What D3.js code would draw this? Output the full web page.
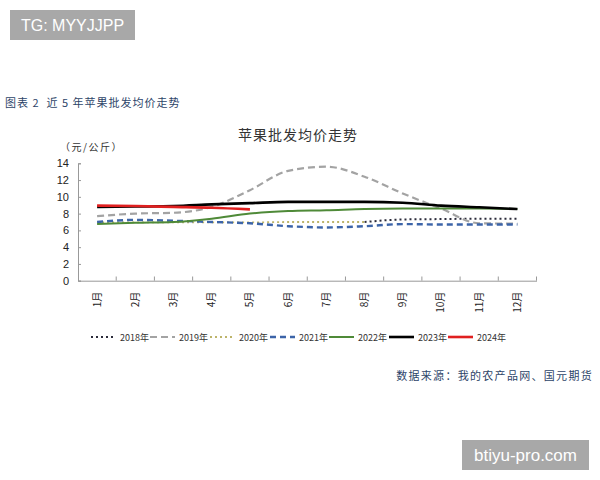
<!DOCTYPE html>
<html><head><meta charset="utf-8">
<script src="https://cdn.jsdelivr.net/npm/d3@7"></script>
<style>body{margin:0;background:#fff}svg{display:block}text{white-space:pre}</style>
</head><body>
<script>
const months = ["1月","2月","3月","4月","5月","6月","7月","8月","9月","10月","11月","12月"];
const yTicks = [0,2,4,6,8,10,12,14];
const s2018 = [null,null,null,null,null,null,null,7.0,7.3,7.35,7.4,7.4];
const s2019 = [7.7,8.0,8.1,8.8,10.8,13.1,13.6,12.4,10.4,8.6,6.85,6.8];
const s2020 = [6.95,6.95,6.95,6.95,6.95,7.0,7.0,7.0,null,null,null,null];
const s2021 = [7.0,7.25,7.15,7.0,6.85,6.5,6.35,6.5,6.75,6.7,6.7,6.7];
const s2022 = [6.75,6.9,7.0,7.4,8.0,8.3,8.4,8.55,8.6,8.6,8.6,8.55];
const s2023 = [8.8,8.85,8.9,9.1,9.25,9.4,9.4,9.4,9.3,8.95,8.75,8.55];
const s2024 = [8.95,8.9,8.8,8.7,8.5];
const seriesNames = ["2018年","2019年","2020年","2021年","2022年","2023年","2024年"];

const styles = [
  {c:"#2b2b3a", w:2, dash:"2,3"},
  {c:"#a3a3a3", w:2.2, dash:"7,4"},
  {c:"#bdb46a", w:1.8, dash:"2,3"},
  {c:"#3c64a8", w:2.4, dash:"6,4"},
  {c:"#4f8a38", w:2, dash:null},
  {c:"#000000", w:2.6, dash:null},
  {c:"#e02020", w:2.6, dash:null}
];
const allSeries = [s2018,s2019,s2020,s2021,s2022,s2023,s2024];

const svg = d3.select("body").append("svg").attr("width",600).attr("height",480);
const CJK = "'Noto Sans CJK SC','Noto Sans',sans-serif";

// watermark boxes
svg.append("rect").attr("x",10).attr("y",10).attr("width",125).attr("height",30).attr("fill","#a8a8a8");
svg.append("text").attr("x",72.5).attr("y",31).attr("text-anchor","middle").attr("fill","#fff")
  .style("font-family","'Liberation Sans',Arial,sans-serif").style("font-size","16px").text("TG: MYYJJPP");
svg.append("rect").attr("x",462).attr("y",440).attr("width",127).attr("height",30).attr("fill","#a8a8a8");
svg.append("text").attr("x",525.5).attr("y",461).attr("text-anchor","middle").attr("fill","#fff")
  .style("font-family","'Liberation Sans',Arial,sans-serif").style("font-size","17px").text("btiyu-pro.com");

svg.append("text").attr("x",5).attr("y",107).attr("fill","#2d4468")
  .style("font-family",CJK).style("font-size","11px").style("letter-spacing","1px").text("图表 2  近 5 年苹果批发均价走势");
svg.append("text").attr("x",593).attr("y",380).attr("text-anchor","end").attr("fill","#2d4468")
  .style("font-family",CJK).style("font-size","11px").style("letter-spacing","1.3px").text("数据来源：我的农产品网、国元期货");

svg.append("text").attr("x",298).attr("y",140).attr("text-anchor","middle").attr("fill","#333")
  .style("font-family",CJK).style("font-size","14px").style("letter-spacing","1px").text("苹果批发均价走势");
svg.append("text").attr("x",60).attr("y",151).attr("fill","#333")
  .style("font-family",CJK).style("font-size","10px").style("letter-spacing","1.5px").text("（元/公斤）");

const x = d3.scaleBand().domain(months).range([78,536.5]);
const y = d3.scaleLinear().domain([0,14]).range([280.7,163.3]);

const yAxis = svg.append("g").attr("transform","translate(78,0)")
  .call(d3.axisLeft(y).tickValues(yTicks).tickSize(-3).tickPadding(9));
yAxis.select(".domain").attr("stroke","#999");
yAxis.selectAll(".tick line").attr("stroke","#999");
yAxis.selectAll("text").attr("fill","#222").style("font-family","'Liberation Sans',Arial,sans-serif").style("font-size","11px");

const xAxis = svg.append("g").attr("transform","translate(0,280.7)")
  .call(d3.axisBottom(x).tickSize(0).tickPadding(0));
xAxis.select(".domain").attr("stroke","#999");
xAxis.selectAll("text").attr("fill","#222").style("font-family",CJK).style("font-size","10px")
  .attr("text-anchor","end").attr("dy","0.35em").attr("y",0)
  .attr("transform","translate(0,11) rotate(-90)");
// band boundary ticks pointing up
const bounds = months.map(m=>x(m)).concat([x(months[11])+x.bandwidth()]).slice(1);
svg.append("g").selectAll("line").data(bounds).join("line")
  .attr("x1",d=>d).attr("x2",d=>d).attr("y1",280.7).attr("y2",276.5).attr("stroke","#999");

const line = d3.line().defined(d=>d.v!=null).x(d=>x(d.m)+x.bandwidth()/2).y(d=>y(d.v)).curve(d3.curveMonotoneX);

allSeries.forEach((s,i)=>{
  const data = s.map((v,j)=>({m:months[j],v:v}));
  svg.append("path").datum(data).attr("d",line).attr("fill","none")
    .attr("stroke",styles[i].c).attr("stroke-width",styles[i].w)
    .attr("stroke-dasharray",styles[i].dash);
});

// legend
const legX = [91,150,210,270,329,389,448];
const leg = svg.append("g");
seriesNames.forEach((n,i)=>{
  leg.append("line").attr("x1",legX[i]).attr("x2",legX[i]+25).attr("y1",337).attr("y2",337)
    .attr("stroke",styles[i].c).attr("stroke-width",styles[i].w)
    .attr("stroke-dasharray",styles[i].dash);
  leg.append("text").attr("x",legX[i]+29).attr("y",340.5).attr("fill","#333")
    .style("font-family",CJK).style("font-size","9px").text(n);
});
</script>
</body></html>
